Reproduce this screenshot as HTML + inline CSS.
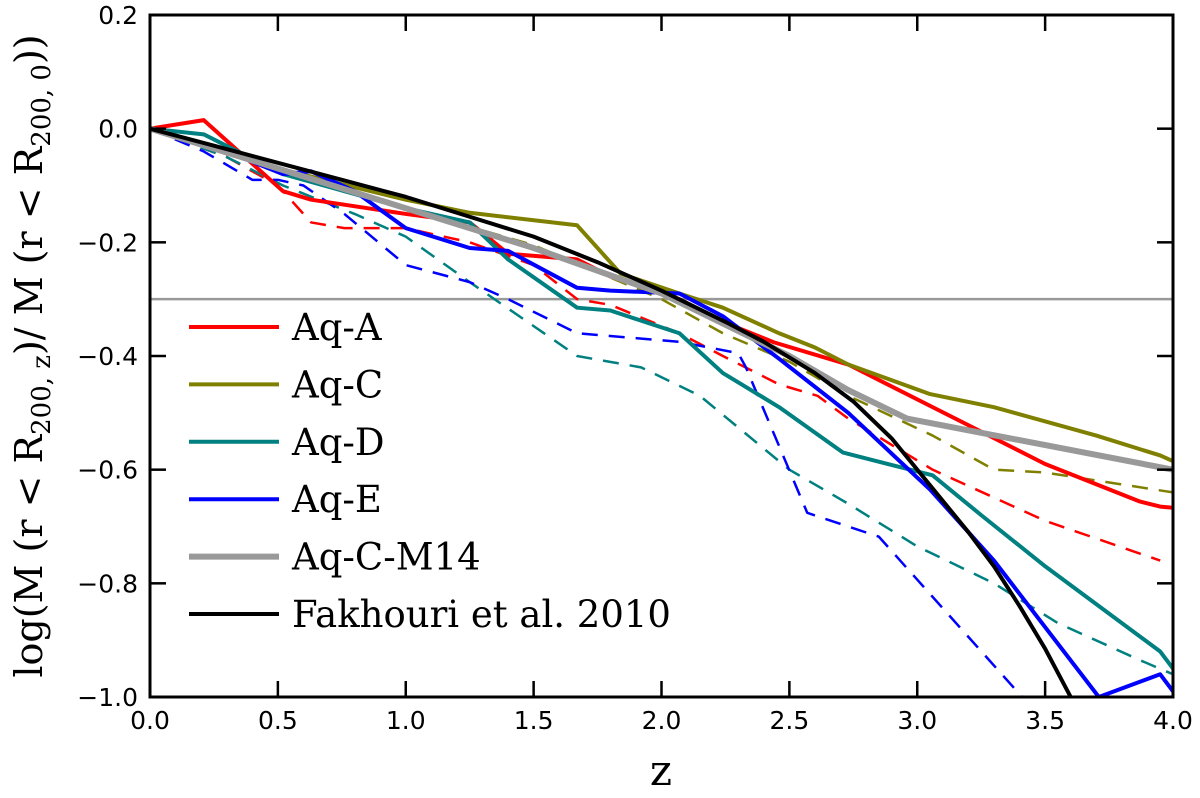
<!DOCTYPE html>
<html><head><meta charset="utf-8"><style>
html,body{margin:0;padding:0;background:#fff;}
svg{display:block;}
.tick{font-family:"DejaVu Sans","Liberation Sans",sans-serif;font-size:25px;fill:#000;}
.ser{font-family:"DejaVu Serif","Liberation Serif",serif;fill:#000;}
</style></head><body>
<svg id="chart" width="1200" height="798" viewBox="0 0 1200 798">
<g id="plot"></g>
<g id="axes"></g>
<g id="legend"></g>
<text class="ser" x="661" y="785" font-size="42" text-anchor="middle">z</text>
<text class="ser" transform="translate(42,356) rotate(-90)" font-size="38" text-anchor="middle">log(M (r &lt; R<tspan font-size="26" dy="8">200, z</tspan><tspan dy="-8">)/ M (r &lt; R</tspan><tspan font-size="26" dy="8">200, 0</tspan><tspan dy="-8">))</tspan></text>
</svg>
<script>
const xTicks=[0,0.5,1,1.5,2,2.5,3,3.5,4];
const xTickLabels=["0.0","0.5","1.0","1.5","2.0","2.5","3.0","3.5","4.0"];
const yTicks=[0.2,0,-0.2,-0.4,-0.6,-0.8,-1.0];
const yTickLabels=["0.2","0.0","\u22120.2","\u22120.4","\u22120.6","\u22120.8","\u22121.0"];
const refLine=-0.3;
const aqA_z=[0,0.21,0.52,0.63,1.0,1.25,1.4,1.67,1.8,2.07,2.24,2.44,2.73,3.06,3.5,3.87,3.95,4.0];
const aqA_v=[0,0.015,-0.11,-0.125,-0.15,-0.165,-0.22,-0.23,-0.26,-0.3,-0.34,-0.376,-0.415,-0.49,-0.59,-0.656,-0.665,-0.667];
const aqC_z=[0,0.5,1.0,1.25,1.67,1.84,2.07,2.24,2.46,2.6,2.73,3.05,3.3,3.7,3.95,4.0];
const aqC_v=[0,-0.07,-0.125,-0.148,-0.17,-0.255,-0.29,-0.315,-0.36,-0.385,-0.415,-0.467,-0.49,-0.54,-0.575,-0.585];
const aqD_z=[0,0.21,0.52,1.0,1.25,1.4,1.67,1.8,2.07,2.24,2.46,2.71,3.06,3.25,3.5,3.95,4.0];
const aqD_v=[0,-0.01,-0.08,-0.14,-0.165,-0.23,-0.315,-0.32,-0.36,-0.43,-0.49,-0.57,-0.61,-0.68,-0.77,-0.92,-0.95];
const aqE_z=[0,0.3,0.52,0.63,0.8,1.0,1.25,1.4,1.67,1.8,2.07,2.24,2.46,2.73,3.05,3.3,3.71,3.95,4.0];
const aqE_v=[0,-0.04,-0.08,-0.075,-0.11,-0.175,-0.21,-0.215,-0.28,-0.285,-0.29,-0.33,-0.405,-0.5,-0.635,-0.76,-1.0,-0.96,-0.99];
const m14_z=[0,0.5,1.0,1.5,2.0,2.5,2.73,2.96,4.0];
const m14_v=[0,-0.07,-0.14,-0.21,-0.29,-0.4,-0.46,-0.51,-0.6];
const fak_z=[0,0.25,0.5,0.75,1.0,1.25,1.5,1.75,2.0,2.25,2.4,2.6,2.75,2.9,3.0,3.1,3.2,3.3,3.4,3.5,3.6];
const fak_v=[0,-0.03,-0.06,-0.09,-0.12,-0.155,-0.19,-0.235,-0.285,-0.34,-0.375,-0.43,-0.48,-0.545,-0.6,-0.655,-0.71,-0.77,-0.84,-0.915,-1.0];
const aqAd_z=[0,0.3,0.5,0.63,0.76,1.0,1.25,1.5,1.67,1.8,2.07,2.24,2.46,2.61,2.73,3.06,3.5,3.95];
const aqAd_v=[0,-0.05,-0.1,-0.165,-0.175,-0.175,-0.2,-0.24,-0.3,-0.31,-0.36,-0.4,-0.45,-0.47,-0.51,-0.6,-0.69,-0.76];
const aqCd_z=[0,0.5,1.0,1.5,2.0,2.24,2.5,2.73,3.06,3.3,3.5,4.0];
const aqCd_v=[0,-0.07,-0.14,-0.205,-0.3,-0.36,-0.41,-0.47,-0.54,-0.6,-0.605,-0.64];
const aqDd_z=[0,0.3,0.52,0.8,1.0,1.25,1.67,1.92,2.15,2.5,2.73,3.0,3.3,3.55,3.87,4.0];
const aqDd_v=[0,-0.05,-0.1,-0.15,-0.19,-0.27,-0.4,-0.42,-0.47,-0.6,-0.66,-0.735,-0.8,-0.87,-0.935,-0.96];
const aqEd_z=[0,0.21,0.4,0.5,0.6,0.76,1.0,1.25,1.4,1.67,2.07,2.3,2.33,2.57,2.85,3.41,3.5];
const aqEd_v=[0,-0.04,-0.09,-0.09,-0.1,-0.15,-0.24,-0.27,-0.3,-0.36,-0.375,-0.395,-0.42,-0.676,-0.718,-1.0,-1.06];

const X0=150,X1=1173,Y0=15,Y1=697;
const xs=z=>X0+(z-0)/(4-0)*(X1-X0);
const ys=v=>Y0+(0.2-v)/(0.2-(-1.0))*(Y1-Y0);
const NS="http://www.w3.org/2000/svg";
const plot=document.getElementById('plot'),axes=document.getElementById('axes'),legend=document.getElementById('legend');
const defs=document.createElementNS(NS,'clipPath');defs.setAttribute('id','clip');
const cr=document.createElementNS(NS,'rect');cr.setAttribute('x',X0);cr.setAttribute('y',Y0);cr.setAttribute('width',X1-X0);cr.setAttribute('height',Y1-Y0);
defs.appendChild(cr);document.getElementById('chart').appendChild(defs);
plot.setAttribute('clip-path','url(#clip)');

const hl=document.createElementNS(NS,'line');


hl.setAttribute('x1',X0);hl.setAttribute('x2',X1);hl.setAttribute('y1',ys(refLine));hl.setAttribute('y2',ys(refLine));
hl.setAttribute('stroke','#999');hl.setAttribute('stroke-width','2.5');plot.appendChild(hl);

function line(zArr,vArr,color,w,dash,name){
  const p=document.createElementNS(NS,'polyline');
  
  
  p.setAttribute('points',zArr.map((z,i)=>xs(z)+','+ys(vArr[i])).join(' '));
  p.setAttribute('fill','none');p.setAttribute('stroke',color);p.setAttribute('stroke-width',w);
  p.setAttribute('stroke-linejoin','round');
  if(dash)p.setAttribute('stroke-dasharray',dash);
  plot.appendChild(p);
}
line(aqAd_z,aqAd_v,'#ff0000',2.5,'16,11','aq-a-dashed');
line(aqCd_z,aqCd_v,'#808000',2.5,'16,11','aq-c-dashed');
line(aqDd_z,aqDd_v,'#008080',2.5,'16,11','aq-d-dashed');
line(aqEd_z,aqEd_v,'#0000ff',2.5,'16,11','aq-e-dashed');
line(aqA_z,aqA_v,'#ff0000',4,null,'aq-a-line');
line(aqC_z,aqC_v,'#808000',4,null,'aq-c-line');
line(aqD_z,aqD_v,'#008080',4,null,'aq-d-line');
line(aqE_z,aqE_v,'#0000ff',4,null,'aq-e-line');
line(m14_z,m14_v,'#999999',6,null,'aq-c-m14-line');
line(fak_z,fak_v,'#000000',4,null,'fakhouri-line');

const fr=document.createElementNS(NS,'rect');


fr.setAttribute('x',X0);fr.setAttribute('y',Y0);fr.setAttribute('width',X1-X0);fr.setAttribute('height',Y1-Y0);
fr.setAttribute('fill','none');fr.setAttribute('stroke','#000');fr.setAttribute('stroke-width','3');axes.appendChild(fr);
function mk(tag,attrs){const e=document.createElementNS(NS,tag);for(const k in attrs)e.setAttribute(k,attrs[k]);return e;}
xTicks.forEach((t,i)=>{
  const x=xs(t);
  const a=mk('line',{x1:x,x2:x,y1:Y1,y2:Y1-16,stroke:'#000','stroke-width':2.5});
  
  
  axes.appendChild(a);
  const b=mk('line',{x1:x,x2:x,y1:Y0,y2:Y0+16,stroke:'#000','stroke-width':2.5});
  
  
  axes.appendChild(b);
  const tx=mk('text',{x:x,y:Y1+32,'text-anchor':'middle',class:'tick'});
  
  
  tx.textContent=xTickLabels[i];axes.appendChild(tx);
});
yTicks.forEach((t,i)=>{
  const y=ys(t);
  const a=mk('line',{x1:X0,x2:X0+16,y1:y,y2:y,stroke:'#000','stroke-width':2.5});
  
  
  axes.appendChild(a);
  const b=mk('line',{x1:X1,x2:X1-16,y1:y,y2:y,stroke:'#000','stroke-width':2.5});
  
  
  axes.appendChild(b);
  const tx=mk('text',{x:X0-12,y:y+9,'text-anchor':'end',class:'tick'});
  
  
  tx.textContent=yTickLabels[i];axes.appendChild(tx);
});
const legLabels=["Aq-A","Aq-C","Aq-D","Aq-E","Aq-C-M14","Fakhouri et al. 2010"];
const legColors=["#ff0000","#808000","#008080","#0000ff","#999999","#000000"];
const legWidths=[4,4,4,4,6,4];
legLabels.forEach((l,i)=>{
  const y=327+i*57.4;
  const ln=mk('line',{x1:189,x2:279,y1:y,y2:y,stroke:legColors[i],'stroke-width':legWidths[i]});
  
  
  legend.appendChild(ln);
  const tx=mk('text',{x:292,y:y+13,class:'ser','font-size':37});
  
  
  tx.textContent=l;legend.appendChild(tx);
});
</script>
</body></html>
